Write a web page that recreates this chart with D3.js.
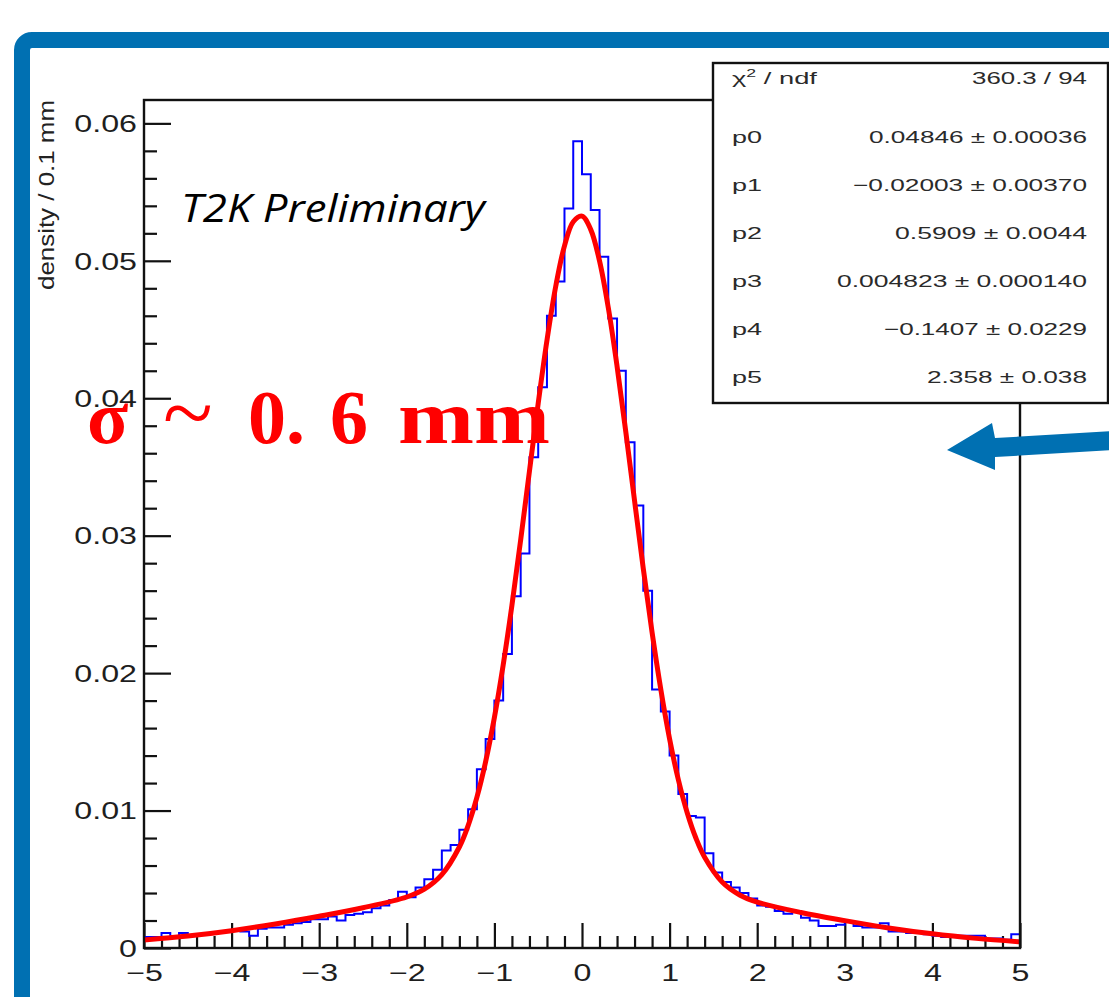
<!DOCTYPE html>
<html>
<head>
<meta charset="utf-8">
<script src="https://cdn.jsdelivr.net/npm/d3@7"></script>
<style>
  body { margin: 0; background: #fff; }
  svg { display: block; }
</style>
</head>
<body>
<svg></svg>
<script>
// histogram: 100 bins of 0.1 from -5 to 5, contents
const histLow = -5
const binWidth = 0.1
const binContent = [
  0.0008, 0.0008, 0.0011, 0.0008, 0.0011, 0.0009, 0.0010, 0.0011, 0.0011, 0.0012,
  0.0013, 0.0012, 0.0009, 0.0014, 0.0015, 0.0015, 0.0017, 0.0018, 0.0019, 0.0021,
  0.0021, 0.0023, 0.0020, 0.0024, 0.0025, 0.0026, 0.0029, 0.0031, 0.0035, 0.0041,
  0.0037, 0.0044, 0.0050, 0.0057, 0.0071, 0.0075, 0.0086, 0.0101, 0.0130, 0.0152,
  0.0180, 0.0214, 0.0256, 0.0287, 0.0357, 0.0408, 0.0460, 0.0485, 0.0538, 0.0587,
  0.0563, 0.0537, 0.0503, 0.0458, 0.0420, 0.0368, 0.0322, 0.0260, 0.0188, 0.0172,
  0.0140, 0.0112, 0.0096, 0.0095, 0.0069, 0.0055, 0.0048, 0.0044, 0.0040, 0.0036,
  0.0031, 0.0030, 0.0027, 0.0025, 0.0027, 0.0022, 0.0020, 0.0016, 0.0016, 0.0017,
  0.0019, 0.0016, 0.0015, 0.0015, 0.0018, 0.0012, 0.0012, 0.0011, 0.0011, 0.0010,
  0.0009, 0.0008, 0.0008, 0.0009, 0.0009, 0.0009, 0.0007, 0.0007, 0.0006, 0.0010
]

// fitted curve (red)
const fitX = [-5, -4.5, -4, -3.5, -3, -2.5, -2, -1.8, -1.6, -1.4, -1.3, -1.2, -1.1, -1.0,
  -0.9, -0.8, -0.7, -0.6, -0.5, -0.4, -0.3, -0.2, -0.1, 0, 0.1, 0.2, 0.3, 0.4, 0.5,
  0.6, 0.7, 0.8, 0.9, 1.0, 1.1, 1.2, 1.3, 1.4, 1.6, 1.8, 2, 2.5, 3, 3.5, 4, 4.5, 5]
const fitY = [0.00058, 0.00087, 0.00126, 0.00175, 0.00231, 0.00293, 0.00371, 0.00428,
  0.00534, 0.00735, 0.00891, 0.01096, 0.01356, 0.01677, 0.02058, 0.02493, 0.02970,
  0.03469, 0.03963, 0.04421, 0.04814, 0.05109, 0.05284, 0.05325, 0.05227, 0.04999,
  0.04659, 0.04234, 0.03755, 0.03254, 0.02759, 0.02296, 0.01880, 0.01521, 0.01224,
  0.00986, 0.00800, 0.00660, 0.00480, 0.00386, 0.00334, 0.00258, 0.00199, 0.00146,
  0.00103, 0.00070, 0.00045]

const xTicks = [-5, -4, -3, -2, -1, 0, 1, 2, 3, 4, 5]
const yTicks = [0, 0.01, 0.02, 0.03, 0.04, 0.05, 0.06]

const statNames = ['χ2 / ndf', 'p0', 'p1', 'p2', 'p3', 'p4', 'p5']
const statValues = ['360.3 / 94', '0.04846 ± 0.00036', '−0.02003 ± 0.00370', '0.5909 ± 0.0044',
  '0.004823 ± 0.000140', '−0.1407 ± 0.0229', '2.358 ± 0.038']
const statWidths = [115, 218, 234, 192, 250, 203, 160]

const W = 1109
const H = 997
const slideBlue = '#0070b2'
const rootFont = '"Liberation Sans", Arial, Helvetica, sans-serif'

const svg = d3.select('svg').attr('width', W).attr('height', H)

// slide border
svg.append('rect')
   .attr('x', 22).attr('y', 40)
   .attr('width', 1200).attr('height', 1100)
   .attr('rx', 10)
   .attr('fill', '#fff')
   .attr('stroke', slideBlue)
   .attr('stroke-width', 16)

const x = d3.scaleLinear().domain([-5, 5]).range([144, 1020])
const y = d3.scaleLinear().domain([0, 0.0617]).range([948, 100])

const minorY = d3.range(0, 31).map(i => i * 0.002).filter((d, i) => i % 5 !== 0)
const minorX = d3.range(0, 51).map(i => -5 + i * 0.2).filter((d, i) => i % 5 !== 0)

const styleAxis = g => {
  g.select('.domain').remove()
  g.selectAll('line').attr('stroke', '#111').attr('stroke-width', 2.2)
  g.selectAll('text')
   .attr('font-family', rootFont)
   .attr('font-size', 23)
   .attr('fill', '#1e1e1e')
   .attr('transform', 'scale(1.4,1)')
}

svg.append('g')
   .attr('transform', 'translate(144,0)')
   .call(d3.axisLeft(y).tickValues(minorY).tickSize(-13).tickFormat(''))
   .call(styleAxis)

svg.append('g')
   .attr('transform', 'translate(144,0)')
   .call(d3.axisLeft(y).tickValues(yTicks).tickSize(-27).tickPadding(5)
           .tickFormat(d => d === 0 ? '0' : d3.format('.2f')(d)))
   .call(styleAxis)
   .selectAll('text').attr('dy', '0.36em')

svg.append('g')
   .attr('transform', 'translate(0,948)')
   .call(d3.axisBottom(x).tickValues(minorX).tickSize(-12).tickFormat(''))
   .call(styleAxis)

svg.append('g')
   .attr('transform', 'translate(0,948)')
   .call(d3.axisBottom(x).tickValues(xTicks).tickSize(-25).tickPadding(17).tickFormat(d3.format('d')))
   .call(styleAxis)

// y title, mostly cut off in the original
svg.append('text')
   .text('density / 0.1 mm')
   .attr('transform', 'translate(54,100)rotate(-90)')
   .attr('text-anchor', 'end')
   .attr('textLength', 190)
   .attr('lengthAdjust', 'spacingAndGlyphs')
   .attr('font-family', rootFont)
   .attr('font-size', 22)
   .attr('fill', '#222')

// histogram
const histPts = binContent.map((v, i) => [histLow + i * binWidth, v])
histPts.push([histLow + binContent.length * binWidth, binContent[binContent.length - 1]])

svg.append('path')
   .datum(histPts)
   .attr('d', d3.line().x(d => x(d[0])).y(d => y(d[1])).curve(d3.curveStepAfter))
   .attr('fill', 'none')
   .attr('stroke', '#0000ff')
   .attr('stroke-width', 2)

// fit
svg.append('path')
   .datum(fitX.map((v, i) => [v, fitY[i]]))
   .attr('d', d3.line().x(d => x(d[0])).y(d => y(d[1])).curve(d3.curveCatmullRom))
   .attr('fill', 'none')
   .attr('stroke', '#ff0000')
   .attr('stroke-width', 5)
   .attr('stroke-linejoin', 'round')

// frame
svg.append('rect')
   .attr('x', x(-5)).attr('y', y(0.0617))
   .attr('width', x(5) - x(-5)).attr('height', y(0) - y(0.0617))
   .attr('fill', 'none')
   .attr('stroke', '#111')
   .attr('stroke-width', 2.4)

// stats box
svg.append('rect')
   .attr('x', 713).attr('y', 63)
   .attr('width', 395).attr('height', 340)
   .attr('fill', '#fff')
   .attr('stroke', '#111')
   .attr('stroke-width', 2.4)

const rowY = i => i === 0 ? 84 : 143 + (i - 1) * 48

statNames.forEach((name, i) => {
  const t = svg.append('text')
     .attr('x', 732).attr('y', rowY(i))
     .attr('font-family', rootFont)
     .attr('font-size', 17)
     .attr('fill', '#2a2a2a')
  if (i === 0) {
    t.append('tspan').text('χ')
    t.append('tspan').text('2').attr('font-size', 11).attr('dy', -7)
    t.append('tspan').text(' / ndf').attr('dy', 7)
    t.attr('textLength', 85).attr('lengthAdjust', 'spacingAndGlyphs')
  } else {
    t.text(name).attr('textLength', 30).attr('lengthAdjust', 'spacingAndGlyphs')
  }
  svg.append('text')
     .text(statValues[i])
     .attr('x', 1087 - statWidths[i]).attr('y', rowY(i))
     .attr('textLength', statWidths[i])
     .attr('lengthAdjust', 'spacingAndGlyphs')
     .attr('font-family', rootFont)
     .attr('font-size', 17)
     .attr('fill', '#2a2a2a')
})

// annotations
svg.append('text')
   .text('T2K Preliminary')
   .attr('x', 181).attr('y', 222)
   .attr('textLength', 304)
   .attr('lengthAdjust', 'spacingAndGlyphs')
   .attr('font-family', '"Open Sans", "Noto Sans", sans-serif')
   .attr('font-style', 'italic')
   .attr('font-size', 38)
   .attr('fill', '#000')

const sigma = svg.append('text')
   .attr('y', 443)
   .attr('font-family', '"Liberation Serif", "DejaVu Serif", serif')
   .attr('font-weight', 'bold')
   .attr('font-size', 76)
   .attr('fill', '#ff0000')
sigma.append('tspan').attr('x', 87).text('σ')
sigma.append('tspan').attr('x', 163).attr('font-weight', 'normal').attr('font-size', 92).text('~')
sigma.append('tspan').attr('x', 248).text('0.')
sigma.append('tspan').attr('x', 330).text('6')
sigma.append('tspan').attr('x', 398).attr('textLength', 152).attr('lengthAdjust', 'spacingAndGlyphs').text('mm')

// arrow pointing at the stats box
const arrowPts = [[1115, 431], [995, 438], [992, 423], [947, 450], [995, 470], [995, 457], [1115, 450]]
svg.append('path')
   .attr('d', d3.line()(arrowPts) + 'Z')
   .attr('fill', slideBlue)
</script>
</body>
</html>
